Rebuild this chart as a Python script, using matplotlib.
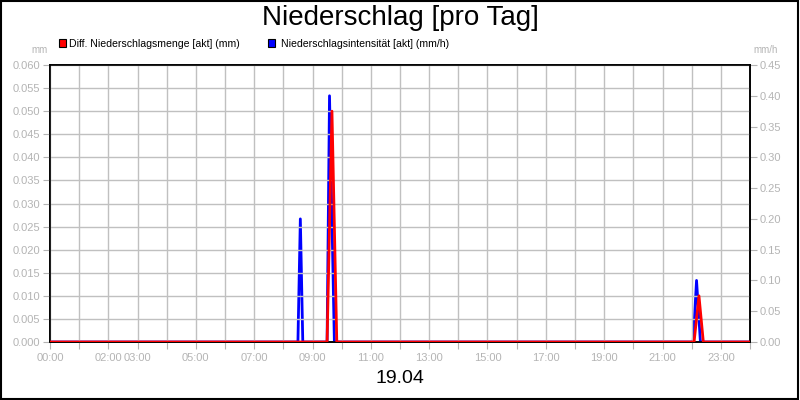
import matplotlib
matplotlib.use("Agg")
import matplotlib.pyplot as plt
from matplotlib.patches import Rectangle

plt.rcParams["font.family"] = ["Liberation Sans", "DejaVu Sans"]

# data (hours of day)
red_hours = [0, 9.5, 9.667, 9.833, 22.083, 22.25, 22.4, 24]
red_values = [0, 0, 0.050, 0, 0, 0.010, 0, 0]
blue_hours = [0, 8.5, 8.583, 8.667, 9.5, 9.583, 9.75, 22.05, 22.167, 22.3, 24]
blue_values = [0, 0, 0.20, 0, 0, 0.40, 0, 0, 0.10, 0, 0]

tick_hours = [0, 2, 3, 5, 7, 9, 11, 13, 15, 17, 19, 21, 23]
tick_labels = ["00:00", "02:00", "03:00", "05:00", "07:00", "09:00", "11:00",
               "13:00", "15:00", "17:00", "19:00", "21:00", "23:00"]
left_ticks = [i * 0.005 for i in range(13)]
right_ticks = [i * 0.05 for i in range(10)]

grey = "#b4b4b4"

fig = plt.figure(figsize=(8, 4), dpi=100)
fig.patches.append(Rectangle((0.001, 0.002), 0.997, 0.996, transform=fig.transFigure,
                             fill=False, edgecolor="black", linewidth=1.5))

ax = fig.add_axes([0.0625, 0.145, 0.875, 0.6925])
ax2 = ax.twinx()

ax.set_xlim(0, 24)
ax.set_ylim(0, 0.060)
ax2.set_ylim(0, 0.45)

# every hour gets a tick + grid line, only some get a label
hour_labels = dict(zip(tick_hours, tick_labels))
ax.set_xticks(range(25))
ax.set_xticklabels([hour_labels.get(h, "") for h in range(25)])
ax.tick_params(axis="x", length=5, color=grey, labelsize=8, labelcolor=grey, pad=3)
ax.grid(True, color="#c0c0c0", linewidth=1)

ax.set_yticks(left_ticks)
ax.set_yticklabels(["%.3f" % v for v in left_ticks])
ax.tick_params(axis="y", length=5, color=grey, labelsize=8, labelcolor=grey, pad=2)
ax2.set_yticks(right_ticks)
ax2.set_yticklabels(["%.2f" % v for v in right_ticks])
ax2.tick_params(axis="y", length=5, color=grey, labelsize=8, labelcolor=grey, pad=2)

for a in (ax, ax2):
    for s in a.spines.values():
        s.set_color("black")
        s.set_linewidth(1.2)

ax2.plot(blue_hours, blue_values, color="#0000ff", linewidth=2, zorder=3)
ax.plot(red_hours, red_values, color="#ff0000", linewidth=2, zorder=4)
ax.set_zorder(ax2.get_zorder() + 1)
ax.patch.set_visible(False)

fig.text(0.5, 0.955, "Niederschlag [pro Tag]", ha="center", va="center", fontsize=20)
fig.text(0.5, 0.053, "19.04", ha="center", va="center", fontsize=14)
fig.text(0.05, 0.875, "mm", ha="center", va="center", fontsize=7, color=grey)
fig.text(0.957, 0.875, "mm/h", ha="center", va="center", fontsize=7, color=grey)

# legend
fig.patches.append(Rectangle((0.074, 0.882), 0.009, 0.02, transform=fig.transFigure,
                             facecolor="#ff0000", edgecolor="black", linewidth=0.8))
fig.text(0.086, 0.891, "Diff. Niederschlagsmenge [akt] (mm)", va="center", fontsize=7.6)
fig.patches.append(Rectangle((0.335, 0.882), 0.009, 0.02, transform=fig.transFigure,
                             facecolor="#0000ff", edgecolor="black", linewidth=0.8))
fig.text(0.351, 0.891, "Niederschlagsintensität [akt] (mm/h)", va="center", fontsize=7.6)

fig.savefig("out.png", dpi=100)
